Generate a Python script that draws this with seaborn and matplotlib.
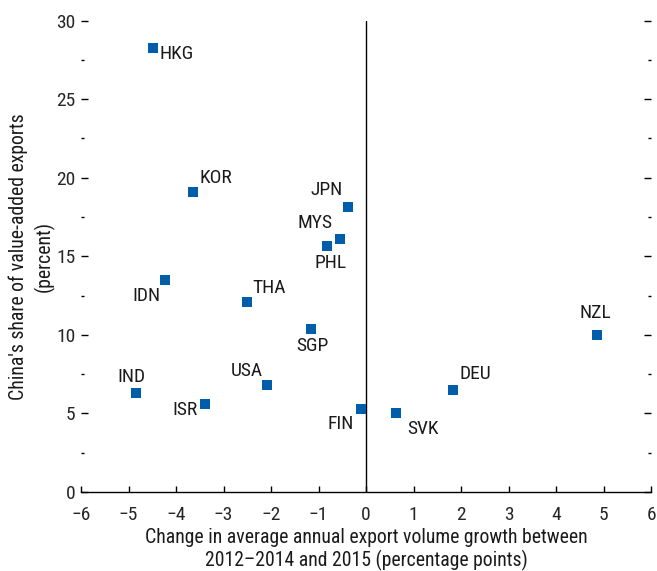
import matplotlib
matplotlib.use("Agg")
import matplotlib.pyplot as plt
import seaborn as sns
import pandas as pd
from matplotlib import font_manager
from matplotlib.ticker import MultipleLocator

countries = ["HKG", "KOR", "IDN", "THA", "JPN", "MYS", "PHL", "SGP",
             "NZL", "DEU", "SVK", "FIN", "IND", "ISR", "USA"]
export_change = [-4.49, -3.65, -4.23, -2.51, -0.38, -0.55, -0.82, -1.16,
                 4.86, 1.83, 0.63, -0.11, -4.84, -3.38, -2.08]
china_share = [28.26, 19.08, 13.50, 12.10, 18.15, 16.09, 15.67, 10.37,
               10.00, 6.51, 5.05, 5.30, 6.30, 5.58, 6.83]

# label offsets in pixels (dx, dy, ha)
label_pos = {
    "HKG": (7, -6, "left"), "KOR": (7, 14, "left"), "IDN": (-5, -16, "right"),
    "THA": (6, 14, "left"), "JPN": (-5, 17, "right"), "MYS": (-7, 16, "right"),
    "PHL": (3, -17, "center"), "SGP": (1, -17, "center"), "NZL": (-2, 22, "center"),
    "DEU": (7, 16, "left"), "SVK": (11, -16, "left"), "FIN": (-7, -15, "right"),
    "IND": (-5, 16, "center"), "ISR": (-8, -6, "right"), "USA": (-4, 14, "right"),
}

df = pd.DataFrame({"country": countries, "x": export_change, "y": china_share})

sns.set_theme(style="white")

# pick a narrow sans font if one is installed
installed = {f.name for f in font_manager.fontManager.ttflist}
narrow = [n for n in ["Liberation Sans Narrow", "Arial Narrow", "Roboto Condensed",
                      "Archivo Narrow", "PT Sans Narrow", "Nimbus Sans Narrow",
                      "Open Sans Condensed"] if n in installed]
plt.rcParams["font.family"] = narrow[:1] + ["Liberation Sans", "DejaVu Sans"]
if not narrow:
    plt.rcParams["font.stretch"] = "condensed"

fig = plt.figure(figsize=(6.57, 5.71), dpi=100)
ax = fig.add_axes([0.1233, 0.1384, 0.8677, 0.8256])

ax.axvline(0, color="black", lw=1, zorder=1)
sns.scatterplot(data=df, x="x", y="y", marker="s", s=55, color="#005DAA",
                linewidth=0, ax=ax, zorder=3)

for c, x, y in zip(countries, export_change, china_share):
    dx, dy, ha = label_pos[c]
    ax.annotate(c, (x, y), xytext=(dx, dy), textcoords="offset pixels",
                ha=ha, va="center", fontsize=14, color="#1a1a1a")

ax.set_xlim(-6, 6)
ax.set_ylim(0, 30)
ax.xaxis.set_major_locator(MultipleLocator(1))
ax.yaxis.set_major_locator(MultipleLocator(5))
ax.yaxis.set_minor_locator(MultipleLocator(2.5))
ax.set_xticklabels([f"{int(v)}".replace("-", "\u2212") for v in ax.get_xticks()])

for s in ["left", "right", "top"]:
    ax.spines[s].set_visible(False)
ax.spines["bottom"].set_color("black")
ax.spines["bottom"].set_linewidth(1)

ax.tick_params(axis="y", which="major", direction="in", left=True, right=True,
               length=5, width=1, color="black", pad=4, labelsize=14)
ax.tick_params(axis="y", which="minor", direction="in", left=True, right=True,
               length=2.2, width=1, color="black")
ax.tick_params(axis="x", which="major", direction="in", bottom=True,
               length=4.5, width=1, color="black", pad=10, labelsize=14)

ax.set_xlabel("Change in average annual export volume growth between\n"
              "2012\u20132014 and 2015 (percentage points)", fontsize=14.2,
              labelpad=3, color="#1a1a1a", linespacing=1.15)
ax.set_ylabel("China's share of value-added exports\n(percent)", fontsize=14.2,
              labelpad=1, color="#1a1a1a", linespacing=1.35)

fig.savefig("out.png", dpi=100)
